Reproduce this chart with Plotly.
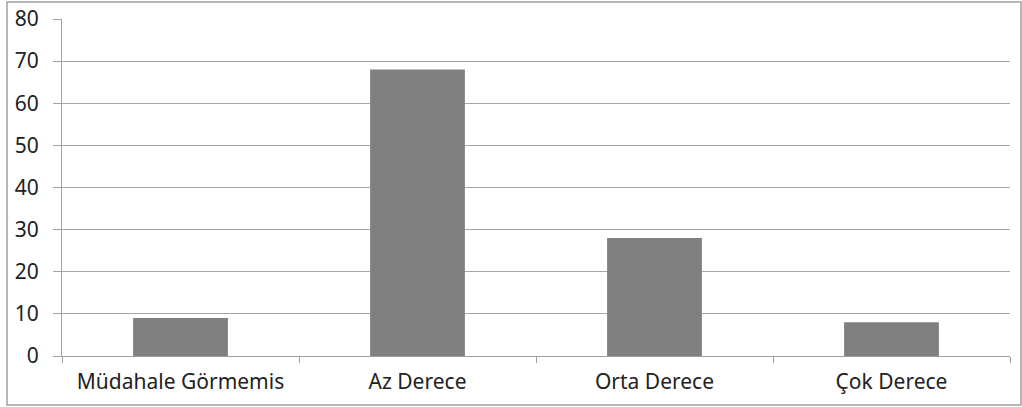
import plotly.graph_objects as go

categories = ["Müdahale Görmemis", "Az Derece", "Orta Derece", "Çok Derece"]
values = [9, 68, 28, 8]
y_ticks = [0, 10, 20, 30, 40, 50, 60, 70, 80]

fig = go.Figure(go.Bar(x=categories, y=values, marker=dict(color="#808080", line=dict(width=0)), width=0.4))

L, R, T, B = 62, 12, 19, 51
W, H = 1022, 407
pw, ph = W - L - R, H - T - B

fig.update_layout(
    width=W, height=H,
    margin=dict(l=L, r=R, t=T, b=B, pad=0, autoexpand=False),
    paper_bgcolor="white", plot_bgcolor="white",
    font=dict(family="Noto Sans, Open Sans, sans-serif", size=21, color="#222222"),
    showlegend=False,
)
fig.update_xaxes(
    type="category", showline=True, linecolor="#a0a0a0", linewidth=1,
    ticks="outside", tickson="boundaries", ticklen=6, tickcolor="#a0a0a0",
    showgrid=False, tickfont=dict(size=21), automargin=False,
    ticklabelstandoff=7,
)
fig.update_yaxes(
    range=[0, 80], tickvals=y_ticks, showline=True, linecolor="#a0a0a0", linewidth=1,
    ticks="outside", ticklen=8, tickcolor="#a0a0a0",
    showgrid=True, gridcolor="#a6a6a6", gridwidth=1, zeroline=False,
    tickfont=dict(size=21), automargin=False,
    ticklabelstandoff=10,
)
# outer chart border
fig.add_shape(type="rect", xref="paper", yref="paper",
              x0=(7 - L) / pw, x1=(1021 - L) / pw,
              y0=(H - B - 405) / ph, y1=(H - B - 2) / ph,
              line=dict(color="#a0a0a0", width=1.5), layer="below")

fig.write_html("out.html", config={"displayModeBar": False},
               post_script="document.body.style.margin='0';document.body.style.overflow='hidden';")
